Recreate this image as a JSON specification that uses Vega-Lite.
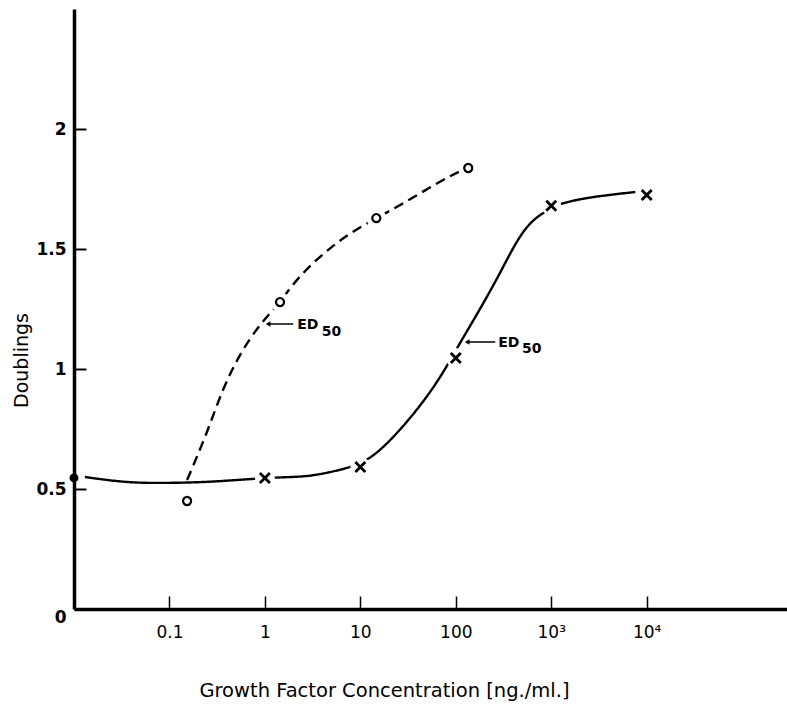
{
  "$schema": "https://vega.github.io/schema/vega-lite/v6.json",
  "width": 713,
  "height": 600,
  "autosize": {"type": "none"},
  "padding": {"left": 74, "top": 9, "right": 0, "bottom": 106},
  "background": "white",
  "config": {"view": {"stroke": null}, "font": "DejaVu Sans"},
  "datasets": {
    "curves": [
      {"series": "x", "x": 0.013, "y": 0.55},
      {"series": "x", "x": 0.0368, "y": 0.525},
      {"series": "x", "x": 0.101, "y": 0.525},
      {"series": "x", "x": 0.267, "y": 0.529},
      {"series": "x", "x": 0.7, "y": 0.542},
      {"series": "x", "x": 1.71, "y": 0.55},
      {"series": "x", "x": 2.98, "y": 0.552},
      {"series": "x", "x": 7.28, "y": 0.585},
      {"series": "x", "x": 13.3, "y": 0.625},
      {"series": "x", "x": 28.1, "y": 0.758},
      {"series": "x", "x": 53.9, "y": 0.9},
      {"series": "x", "x": 83.2, "y": 1.02},
      {"series": "x", "x": 111, "y": 1.11},
      {"series": "x", "x": 180, "y": 1.25},
      {"series": "x", "x": 292, "y": 1.4},
      {"series": "x", "x": 440, "y": 1.54},
      {"series": "x", "x": 640, "y": 1.625},
      {"series": "x", "x": 1000, "y": 1.67},
      {"series": "x", "x": 1241, "y": 1.69},
      {"series": "x", "x": 2563, "y": 1.717},
      {"series": "x", "x": 7600, "y": 1.7375},
      {"series": "o", "x": 0.153, "y": 0.5375},
      {"series": "o", "x": 0.248, "y": 0.733},
      {"series": "o", "x": 0.365, "y": 0.925},
      {"series": "o", "x": 0.577, "y": 1.079},
      {"series": "o", "x": 0.849, "y": 1.175},
      {"series": "o", "x": 1.135, "y": 1.233},
      {"series": "o", "x": 1.44, "y": 1.279},
      {"series": "o", "x": 1.98, "y": 1.355},
      {"series": "o", "x": 2.98, "y": 1.432},
      {"series": "o", "x": 4.82, "y": 1.504},
      {"series": "o", "x": 7.82, "y": 1.567},
      {"series": "o", "x": 14.7, "y": 1.629},
      {"series": "o", "x": 24.3, "y": 1.675},
      {"series": "o", "x": 45.5, "y": 1.74},
      {"series": "o", "x": 87.3, "y": 1.805},
      {"series": "o", "x": 120, "y": 1.83}
    ],
    "points": [
      {"series": "o", "x": 0.01, "y": 0.546},
      {"series": "o", "x": 0.153, "y": 0.45},
      {"series": "o", "x": 1.44, "y": 1.279},
      {"series": "o", "x": 14.7, "y": 1.629},
      {"series": "o", "x": 135, "y": 1.8375},
      {"series": "x", "x": 0.01, "y": 0.546},
      {"series": "x", "x": 1, "y": 0.546},
      {"series": "x", "x": 10, "y": 0.592},
      {"series": "x", "x": 100, "y": 1.046},
      {"series": "x", "x": 1000, "y": 1.68},
      {"series": "x", "x": 10000, "y": 1.725}
    ],
    "arrows": [
      {"x": 1.08, "x2": 1.98, "y": 1.1875},
      {"x": 131.5, "x2": 259, "y": 1.1125}
    ],
    "labels": [
      {"x": 2.18, "y": 1.183, "text": "ED"},
      {"x": 3.95, "y": 1.154, "text": "50"},
      {"x": 278, "y": 1.108, "text": "ED"},
      {"x": 495, "y": 1.083, "text": "50"}
    ]
  },
  "encoding": {
    "x": {
      "field": "x",
      "type": "quantitative",
      "scale": {"type": "log", "domain": [0.01, 295000], "nice": false},
      "axis": {
        "title": "Growth Factor Concentration [ng./ml.]",
        "values": [0.1, 1, 10, 100, 1000, 10000],
        "labelExpr": "datum.value == 1000 ? '10³' : datum.value == 10000 ? '10⁴' : toString(datum.value)",
        "grid": false,
        "domainColor": "black",
        "domainWidth": 3.5,
        "tickColor": "black",
        "tickSize": -13,
        "tickWidth": 1.5,
        "labelPadding": 28,
        "labelFontSize": 17,
        "labelFont": "DejaVu Sans",
        "labelColor": "black",
        "labelFlush": false,
        "titleFont": "DejaVu Sans",
        "titleFontSize": 19.5,
        "titleFontWeight": "normal",
        "titleColor": "black",
        "titleX": 310,
        "titleY": 81,
        "titleAlign": "center",
        "titleBaseline": "middle",
        "zindex": 1
      }
    },
    "y": {
      "field": "y",
      "type": "quantitative",
      "scale": {"domain": [0, 2.5], "nice": false, "zero": false},
      "axis": {
        "title": "Doublings",
        "values": [0, 0.5, 1, 1.5, 2],
        "labelExpr": "toString(datum.value)",
        "grid": false,
        "domainColor": "black",
        "domainWidth": 3.5,
        "tickColor": "black",
        "tickSize": -12,
        "tickWidth": 2,
        "labelPadding": 20,
        "labelFontSize": 17,
        "labelFont": "DejaVu Sans",
        "labelFontWeight": "bold",
        "labelColor": "black",
        "labelFlush": false,
        "labelBaseline": {"condition": {"test": "datum.value == 0", "value": "top"}, "value": "middle"},
        "titleFont": "DejaVu Sans",
        "titleFontSize": 19,
        "titleFontWeight": "normal",
        "titleColor": "black",
        "titleX": -53,
        "titleY": 351,
        "titleAlign": "center",
        "titleBaseline": "middle",
        "titleAngle": -90,
        "zindex": 1
      }
    }
  },
  "layer": [
    {
      "data": {"name": "curves"},
      "mark": {"type": "line", "interpolate": "basis", "color": "black", "strokeWidth": 2.4},
      "encoding": {
        "strokeDash": {
          "field": "series",
          "type": "nominal",
          "scale": {"domain": ["o", "x"], "range": [[10, 6], [1, 0]]},
          "legend": null
        }
      }
    },
    {
      "data": {"name": "points"},
      "mark": {"type": "circle", "color": "white", "opacity": 1, "size": 400}
    },
    {
      "data": {"name": "points"},
      "transform": [{"filter": "datum.series == 'o' && datum.x > 0.011"}],
      "mark": {"type": "point", "shape": "circle", "filled": false, "color": "black", "opacity": 1, "size": 65, "strokeWidth": 2.2}
    },
    {
      "data": {"name": "points"},
      "transform": [{"filter": "datum.series == 'x' && datum.x > 0.011"}],
      "mark": {"type": "point", "shape": "M-1,-1L1,1M1,-1L-1,1", "filled": false, "color": "black", "opacity": 1, "size": 100, "strokeWidth": 2.8}
    },
    {
      "data": {"name": "points"},
      "transform": [{"filter": "datum.x < 0.011 && datum.series == 'o'"}],
      "mark": {"type": "point", "shape": "circle", "filled": true, "color": "black", "opacity": 1, "size": 80}
    },
    {
      "data": {"name": "arrows"},
      "mark": {"type": "rule", "color": "black", "strokeWidth": 1.5},
      "encoding": {"x2": {"field": "x2"}}
    },
    {
      "data": {"name": "arrows"},
      "mark": {"type": "point", "shape": "triangle-left", "filled": true, "color": "black", "opacity": 1, "size": 30}
    },
    {
      "data": {"name": "labels"},
      "mark": {"type": "text", "align": "left", "baseline": "middle", "font": "DejaVu Sans", "fontSize": 14, "fontWeight": "bold", "color": "black"},
      "encoding": {"text": {"field": "text", "type": "nominal"}}
    }
  ]
}
